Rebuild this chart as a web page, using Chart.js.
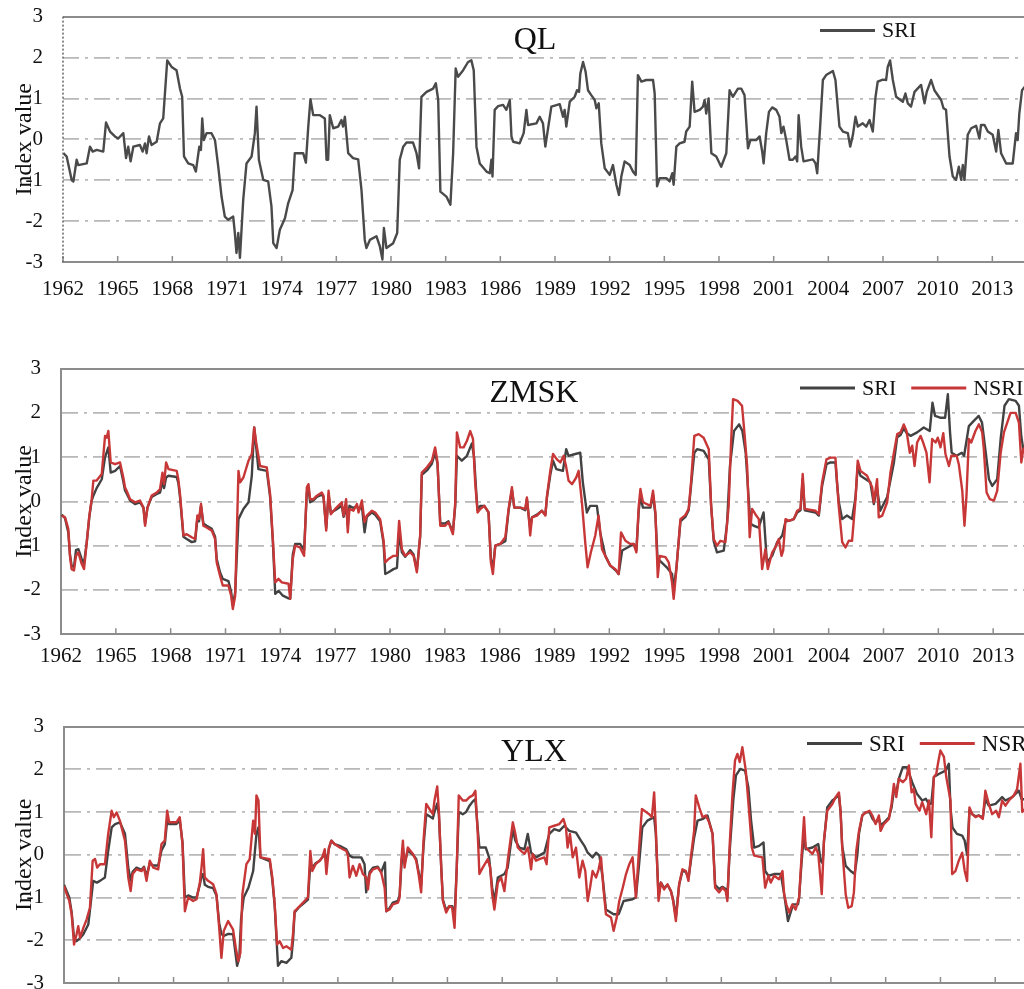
<!DOCTYPE html>
<html>
<head>
<meta charset="utf-8">
<title>SRI / NSRI</title>
<script src="https://cdn.jsdelivr.net/npm/chart.js@4.4.0/dist/chart.umd.min.js"></script>
<style>
    html, body { margin: 0; padding: 0; width: 1024px; height: 989px; overflow: hidden; background: #ffffff; }
    .panel { position: absolute; left: 0; width: 1080px; }
</style>
</head>
<body>
<div class="panel" style="top:-16px;height:336px"><canvas id="graficaQL"></canvas></div>
<div class="panel" style="top:335.5px;height:354.5px"><canvas id="graficaZMSK"></canvas></div>
<div class="panel" style="top:694px;height:326px"><canvas id="graficaYLX"></canvas></div>
<script>
// tick labels
const anosEje = [1962, 1965, 1968, 1971, 1974, 1977, 1980, 1983, 1986, 1989, 1992, 1995, 1998, 2001, 2004, 2007, 2010, 2013];
const valoresEje = [-3, -2, -1, 0, 1, 2, 3];

// [year, index value]
const qlSri = [
    [1962.02,-0.34],[1962.2,-0.42],[1962.48,-1.0],[1962.57,-1.03],[1962.75,-0.5],[1962.84,-0.63],[1963.3,-0.59],[1963.48,-0.18],[1963.63,-0.3],[1963.85,-0.26],
    [1964.21,-0.3],[1964.36,0.41],[1964.58,0.19],[1964.85,0.07],[1965.03,0.02],[1965.31,0.15],[1965.46,-0.46],[1965.58,-0.18],[1965.71,-0.54],[1965.86,-0.18],
    [1966.22,-0.14],[1966.37,-0.3],[1966.5,-0.1],[1966.59,-0.34],[1966.72,0.07],[1966.86,-0.14],[1967.14,-0.06],[1967.32,0.39],[1967.5,0.51],[1967.72,1.93],
    [1967.96,1.77],[1968.23,1.69],[1968.42,1.24],[1968.54,1.04],[1968.64,-0.42],[1968.87,-0.59],[1969.15,-0.63],[1969.29,-0.79],[1969.48,-0.18],[1969.57,-0.26],
    [1969.64,0.51],[1969.73,-0.02],[1969.88,0.15],[1970.15,0.15],[1970.34,-0.02],[1970.52,-0.67],[1970.7,-1.4],[1970.88,-1.89],[1971.07,-1.97],[1971.34,-1.89],
    [1971.43,-2.29],[1971.52,-2.78],[1971.62,-2.29],[1971.71,-2.9],[1971.89,-1.48],[1972.07,-0.59],[1972.35,-0.42],[1972.53,0.15],[1972.62,0.8],[1972.75,-0.5],
    [1972.99,-0.99],[1973.26,-1.03],[1973.44,-1.64],[1973.54,-2.54],[1973.72,-2.66],[1973.9,-2.21],[1974.18,-1.93],[1974.36,-1.56],[1974.6,-1.24],[1974.72,-0.34],
    [1975.18,-0.34],[1975.33,-0.57],[1975.46,0.31],[1975.58,0.98],[1975.73,0.59],[1976.1,0.59],[1976.37,0.51],[1976.46,-0.5],[1976.55,-0.5],[1976.64,0.59],
    [1976.83,0.27],[1977.1,0.31],[1977.28,0.47],[1977.37,0.31],[1977.47,0.55],[1977.65,-0.34],[1977.92,-0.46],[1978.2,-0.49],[1978.38,-1.24],[1978.56,-2.46],
    [1978.65,-2.66],[1978.84,-2.46],[1979.2,-2.37],[1979.39,-2.62],[1979.53,-2.94],[1979.61,-2.17],[1979.75,-2.66],[1980.12,-2.54],[1980.34,-2.29],[1980.48,-0.5],
    [1980.67,-0.18],[1980.85,-0.08],[1981.21,-0.08],[1981.4,-0.34],[1981.54,-0.71],[1981.67,1.04],[1981.95,1.16],[1982.31,1.24],[1982.46,1.37],[1982.59,0.96],
    [1982.71,-1.28],[1983.04,-1.4],[1983.26,-1.6],[1983.41,-0.34],[1983.55,1.73],[1983.68,1.53],[1983.96,1.69],[1984.23,1.89],[1984.41,1.93],[1984.54,1.69],
    [1984.69,-0.18],[1984.87,-0.59],[1985.24,-0.79],[1985.42,-0.83],[1985.51,-0.5],[1985.57,-0.91],[1985.69,0.72],[1985.88,0.81],[1986.15,0.84],[1986.33,0.72],
    [1986.52,0.96],[1986.61,0.07],[1986.7,-0.06],[1987.06,-0.1],[1987.28,0.15],[1987.43,0.72],[1987.52,0.35],[1987.98,0.39],[1988.16,0.55],[1988.34,0.39],
    [1988.47,-0.18],[1988.62,0.27],[1988.8,0.8],[1989.26,0.86],[1989.44,0.55],[1989.53,0.72],[1989.62,0.31],[1989.81,0.92],[1990.08,1.04],[1990.21,1.2],
    [1990.32,1.16],[1990.39,1.61],[1990.54,1.89],[1990.68,1.65],[1990.81,1.2],[1990.99,1.08],[1991.18,0.96],[1991.27,0.76],[1991.4,0.88],[1991.54,-0.1],
    [1991.73,-0.71],[1992.0,-0.87],[1992.18,-0.63],[1992.37,-1.11],[1992.51,-1.36],[1992.64,-0.91],[1992.82,-0.54],[1993.1,-0.63],[1993.28,-0.79],[1993.43,-0.87],
    [1993.55,1.57],[1993.74,1.41],[1994.01,1.45],[1994.38,1.45],[1994.47,1.12],[1994.6,-1.15],[1994.74,-0.95],[1995.11,-0.95],[1995.29,-1.03],[1995.44,-0.83],
    [1995.51,-1.11],[1995.66,-0.18],[1995.84,-0.1],[1996.11,-0.06],[1996.2,0.19],[1996.39,0.31],[1996.53,1.41],[1996.66,0.67],[1996.94,0.72],[1997.12,0.8],
    [1997.21,0.96],[1997.3,0.63],[1997.43,1.0],[1997.58,-0.34],[1997.85,-0.42],[1998.12,-0.67],[1998.4,-0.34],[1998.58,1.2],[1998.76,1.04],[1999.04,1.24],
    [1999.22,1.24],[1999.4,1.08],[1999.59,-0.22],[1999.72,-0.02],[2000.04,-0.02],[2000.23,0.07],[2000.37,-0.3],[2000.45,-0.59],[2000.59,0.15],[2000.74,0.67],
    [2000.92,0.78],[2001.14,0.72],[2001.32,0.55],[2001.42,0.15],[2001.54,0.31],[2001.69,-0.02],[2001.87,-0.5],[2002.05,-0.5],[2002.2,-0.42],[2002.29,-0.54],
    [2002.37,0.59],[2002.51,-0.18],[2002.64,-0.54],[2003.15,-0.49],[2003.3,-0.59],[2003.39,-0.83],[2003.55,0.31],[2003.7,1.45],[2003.88,1.57],[2004.25,1.67],
    [2004.39,1.45],[2004.61,0.31],[2004.8,0.19],[2005.07,0.15],[2005.2,-0.18],[2005.35,0.11],[2005.49,0.55],[2005.62,0.31],[2005.89,0.39],[2006.08,0.31],
    [2006.26,0.47],[2006.44,0.19],[2006.59,1.04],[2006.71,1.41],[2006.99,1.46],[2007.17,1.45],[2007.26,1.77],[2007.39,1.93],[2007.54,1.45],[2007.72,1.04],
    [2008.09,0.92],[2008.23,1.12],[2008.36,0.88],[2008.54,0.8],[2008.73,1.16],[2009.09,1.33],[2009.28,0.88],[2009.4,1.16],[2009.64,1.45],[2009.82,1.2],
    [2010.19,0.96],[2010.32,0.76],[2010.46,0.72],[2010.65,-0.42],[2010.83,-0.91],[2011.01,-0.99],[2011.16,-0.67],[2011.29,-0.99],[2011.38,-0.63],[2011.47,-0.99],
    [2011.65,0.11],[2011.84,0.27],[2012.11,0.33],[2012.29,0.02],[2012.38,0.35],[2012.57,0.35],[2012.75,0.19],[2013.02,0.11],[2013.21,-0.3],[2013.33,0.23],
    [2013.48,-0.34],[2013.76,-0.59],[2014.12,-0.59],[2014.3,0.15],[2014.39,-0.02],[2014.48,0.63],[2014.63,1.2],[2014.9,1.35]
];

const zmskSri = [
    [1962.04,-0.3],[1962.22,-0.38],[1962.4,-0.7],[1962.49,-1.2],[1962.58,-1.45],[1962.71,-1.48],[1962.82,-1.1],[1962.95,-1.08],[1963.13,-1.3],[1963.26,-1.4],
    [1963.41,-0.92],[1963.55,-0.35],[1963.68,0.02],[1963.77,0.13],[1963.95,0.3],[1964.23,0.5],[1964.41,1.0],[1964.59,1.22],[1964.72,0.65],[1964.96,0.69],
    [1965.23,0.8],[1965.41,0.45],[1965.5,0.25],[1965.59,0.18],[1965.78,0.02],[1966.05,-0.06],[1966.32,-0.02],[1966.51,-0.14],[1966.6,-0.5],[1966.73,-0.14],
    [1966.96,0.1],[1967.24,0.17],[1967.42,0.2],[1967.55,0.45],[1967.64,0.3],[1967.75,0.54],[1967.88,0.58],[1968.33,0.55],[1968.42,0.42],[1968.51,0.1],
    [1968.7,-0.8],[1968.88,-0.85],[1969.15,-0.92],[1969.34,-0.9],[1969.46,-0.4],[1969.55,-0.45],[1969.66,-0.1],[1969.79,-0.5],[1969.97,-0.55],[1970.25,-0.62],
    [1970.43,-0.8],[1970.52,-1.3],[1970.7,-1.6],[1970.85,-1.75],[1971.16,-1.8],[1971.31,-2.05],[1971.4,-2.35],[1971.53,-2.05],[1971.71,-0.4],[1971.98,-0.17],
    [1972.26,-0.02],[1972.44,0.58],[1972.57,1.67],[1972.8,0.73],[1973.26,0.69],[1973.44,0.1],[1973.59,-0.9],[1973.72,-2.09],[1973.9,-2.02],[1974.14,-2.13],
    [1974.45,-2.19],[1974.54,-2.2],[1974.68,-1.2],[1974.81,-0.96],[1975.08,-0.96],[1975.3,-1.1],[1975.45,0.2],[1975.54,0.3],[1975.63,-0.02],[1975.81,0.02],
    [1976.0,0.1],[1976.27,0.15],[1976.36,0.1],[1976.51,-0.6],[1976.64,0.15],[1976.76,-0.25],[1977.0,-0.2],[1977.36,-0.1],[1977.46,-0.35],[1977.6,-0.1],
    [1977.69,-0.55],[1977.78,-0.1],[1978.0,-0.15],[1978.19,-0.1],[1978.28,-0.2],[1978.46,-0.1],[1978.61,-0.7],[1978.73,-0.35],[1979.01,-0.25],[1979.19,-0.3],
    [1979.46,-0.45],[1979.65,-0.95],[1979.74,-1.64],[1979.92,-1.6],[1980.19,-1.53],[1980.38,-1.5],[1980.5,-0.7],[1980.65,-1.15],[1980.83,-1.25],[1981.11,-1.1],
    [1981.29,-1.2],[1981.47,-1.55],[1981.65,-0.8],[1981.74,0.6],[1982.02,0.7],[1982.29,0.85],[1982.47,1.1],[1982.6,0.85],[1982.75,-0.5],[1983.02,-0.5],
    [1983.2,-0.45],[1983.44,-0.7],[1983.57,-0.1],[1983.66,1.03],[1983.93,0.92],[1984.21,1.03],[1984.48,1.31],[1984.6,1.0],[1984.72,0.2],[1984.79,-0.2],
    [1984.94,-0.1],[1985.16,-0.1],[1985.39,-0.25],[1985.52,-1.3],[1985.63,-1.5],[1985.76,-1.0],[1986.03,-0.96],[1986.31,-0.9],[1986.49,-0.2],[1986.67,0.25],
    [1986.8,-0.14],[1987.13,-0.14],[1987.4,-0.2],[1987.49,0.05],[1987.58,-0.3],[1987.67,-0.6],[1987.77,-0.36],[1988.04,-0.3],[1988.31,-0.21],[1988.5,-0.3],
    [1988.59,0.1],[1988.77,0.6],[1988.92,0.92],[1989.1,0.73],[1989.46,0.69],[1989.64,1.18],[1989.77,1.03],[1990.04,1.06],[1990.41,1.1],[1990.55,0.43],
    [1990.77,-0.25],[1990.95,-0.1],[1991.32,-0.1],[1991.5,-0.7],[1991.78,-1.23],[1992.05,-1.45],[1992.33,-1.55],[1992.51,-1.64],[1992.7,-1.11],[1993.0,-1.04],
    [1993.33,-0.96],[1993.48,-1.1],[1993.61,-0.2],[1993.7,0.1],[1993.84,-0.14],[1994.25,-0.14],[1994.39,0.15],[1994.52,-0.3],[1994.65,-1.4],[1994.76,-1.34],
    [1995.14,-1.49],[1995.43,-1.64],[1995.52,-1.98],[1995.67,-1.5],[1995.89,-0.45],[1996.16,-0.35],[1996.34,-0.2],[1996.47,0.35],[1996.65,1.1],[1996.8,1.18],
    [1997.16,1.14],[1997.44,0.95],[1997.57,-0.1],[1997.71,-0.9],[1997.89,-1.15],[1998.26,-1.11],[1998.44,-0.5],[1998.6,0.8],[1998.82,1.59],[1999.1,1.74],
    [1999.28,1.59],[1999.46,1.1],[1999.6,0.2],[1999.72,-0.5],[1999.9,-0.55],[2000.17,-0.59],[2000.44,-0.25],[2000.62,-1.38],[2000.91,-1.23],[2001.18,-0.92],
    [2001.46,-0.77],[2001.64,-0.45],[2001.82,-0.44],[2002.09,-0.4],[2002.28,-0.25],[2002.46,-0.2],[2002.58,0.5],[2002.69,-0.2],[2003.28,-0.25],[2003.46,-0.32],
    [2003.64,0.35],[2003.88,0.84],[2004.1,0.88],[2004.37,0.88],[2004.46,0.4],[2004.55,0.0],[2004.74,-0.4],[2005.0,-0.32],[2005.28,-0.4],[2005.47,0.1],
    [2005.59,0.8],[2005.74,0.58],[2006.28,0.43],[2006.47,-0.06],[2006.65,0.3],[2006.82,-0.21],[2007.2,0.1],[2007.57,0.88],[2007.75,1.45],[2007.93,1.5],
    [2008.11,1.65],[2008.26,1.55],[2008.48,1.48],[2008.84,1.56],[2009.2,1.67],[2009.53,1.59],[2009.68,2.23],[2009.82,1.93],[2010.1,1.89],[2010.37,1.89],
    [2010.52,2.42],[2010.64,1.56],[2010.73,1.1],[2011.0,1.03],[2011.28,1.1],[2011.41,1.03],[2011.67,1.7],[2011.94,1.82],[2012.21,1.93],[2012.39,1.78],
    [2012.57,1.18],[2012.77,0.5],[2012.95,0.35],[2013.22,0.5],[2013.41,1.41],[2013.62,2.16],[2013.86,2.31],[2014.23,2.27],[2014.41,2.16],[2014.54,1.46],
    [2014.65,1.18],[2014.9,1.3]
];

const zmskNsri = [
    [1962.04,-0.32],[1962.22,-0.36],[1962.4,-0.62],[1962.49,-1.23],[1962.58,-1.53],[1962.71,-1.56],[1962.82,-1.23],[1962.95,-1.15],[1963.13,-1.41],[1963.26,-1.53],
    [1963.41,-0.92],[1963.55,-0.32],[1963.68,0.05],[1963.77,0.47],[1963.95,0.47],[1964.23,0.62],[1964.41,1.48],[1964.5,1.44],[1964.59,1.59],[1964.72,0.88],
    [1964.96,0.84],[1965.23,0.88],[1965.41,0.54],[1965.5,0.32],[1965.59,0.24],[1965.78,0.05],[1966.05,-0.02],[1966.32,0.02],[1966.51,-0.14],[1966.6,-0.55],
    [1966.73,-0.14],[1966.96,0.13],[1967.24,0.2],[1967.42,0.28],[1967.55,0.65],[1967.64,0.39],[1967.75,0.88],[1967.88,0.73],[1968.33,0.69],[1968.42,0.5],
    [1968.51,0.17],[1968.7,-0.77],[1968.88,-0.74],[1969.15,-0.81],[1969.34,-0.85],[1969.46,-0.32],[1969.55,-0.4],[1969.66,-0.06],[1969.79,-0.55],[1969.97,-0.59],
    [1970.25,-0.66],[1970.43,-0.85],[1970.52,-1.38],[1970.7,-1.68],[1970.85,-1.9],[1971.16,-1.9],[1971.31,-2.13],[1971.4,-2.43],[1971.53,-2.13],[1971.71,0.69],
    [1971.8,0.43],[1971.98,0.54],[1972.26,0.92],[1972.44,1.07],[1972.57,1.67],[1972.68,1.33],[1972.89,0.8],[1973.26,0.77],[1973.44,0.17],[1973.59,-0.85],
    [1973.72,-1.83],[1973.9,-1.75],[1974.08,-1.83],[1974.45,-1.86],[1974.54,-2.2],[1974.68,-1.3],[1974.81,-1.0],[1975.08,-1.04],[1975.3,-1.23],[1975.45,0.32],
    [1975.54,0.39],[1975.63,0.05],[1975.81,0.05],[1976.0,0.13],[1976.27,0.2],[1976.36,0.13],[1976.51,-0.66],[1976.64,0.24],[1976.76,-0.29],[1977.0,-0.17],
    [1977.36,-0.02],[1977.46,-0.32],[1977.6,0.05],[1977.69,-0.7],[1977.78,-0.17],[1978.0,-0.21],[1978.19,-0.06],[1978.28,-0.25],[1978.46,0.02],[1978.61,-0.47],
    [1978.73,-0.32],[1979.01,-0.21],[1979.19,-0.25],[1979.46,-0.4],[1979.65,-0.89],[1979.74,-1.38],[1979.92,-1.3],[1980.19,-1.23],[1980.38,-1.23],[1980.5,-0.44],
    [1980.65,-1.08],[1980.83,-1.23],[1981.11,-1.15],[1981.29,-1.23],[1981.47,-1.6],[1981.65,-0.77],[1981.74,0.65],[1982.02,0.77],[1982.29,0.92],[1982.47,1.22],
    [1982.6,0.88],[1982.75,-0.55],[1983.02,-0.55],[1983.2,-0.47],[1983.44,-0.74],[1983.57,-0.02],[1983.66,1.56],[1983.84,1.22],[1984.03,1.22],[1984.21,1.37],
    [1984.39,1.59],[1984.54,1.41],[1984.66,0.43],[1984.79,-0.25],[1984.94,-0.17],[1985.16,-0.1],[1985.39,-0.25],[1985.52,-1.38],[1985.63,-1.64],[1985.76,-1.0],
    [1986.03,-0.96],[1986.31,-0.81],[1986.49,-0.17],[1986.67,0.32],[1986.8,-0.14],[1987.13,-0.14],[1987.4,-0.17],[1987.49,0.09],[1987.58,-0.29],[1987.67,-0.77],
    [1987.77,-0.36],[1988.04,-0.32],[1988.31,-0.21],[1988.5,-0.32],[1988.59,0.13],[1988.77,0.69],[1988.92,1.07],[1989.13,0.95],[1989.32,0.88],[1989.5,1.03],
    [1989.63,0.8],[1989.77,0.47],[1989.96,0.39],[1990.19,0.54],[1990.32,0.69],[1990.5,-0.02],[1990.68,-0.92],[1990.81,-1.49],[1990.99,-1.15],[1991.23,-0.77],
    [1991.41,-0.32],[1991.6,-1.08],[1991.78,-1.23],[1992.05,-1.45],[1992.33,-1.53],[1992.51,-1.64],[1992.64,-0.7],[1992.88,-0.89],[1993.15,-0.96],[1993.33,-0.96],
    [1993.48,-1.15],[1993.61,-0.1],[1993.7,0.28],[1993.84,-0.02],[1994.25,-0.1],[1994.39,0.24],[1994.52,-0.25],[1994.65,-1.71],[1994.76,-1.23],[1995.07,-1.26],
    [1995.25,-1.38],[1995.43,-1.83],[1995.52,-2.2],[1995.67,-1.53],[1995.89,-0.4],[1996.16,-0.31],[1996.34,-0.17],[1996.47,0.43],[1996.65,1.48],[1996.89,1.52],
    [1997.16,1.44],[1997.44,1.18],[1997.57,-0.1],[1997.71,-0.85],[1997.89,-1.0],[1998.08,-0.89],[1998.35,-0.92],[1998.53,-0.1],[1998.66,1.33],[1998.77,2.31],
    [1999.02,2.27],[1999.26,2.16],[1999.39,1.56],[1999.54,0.8],[1999.68,-0.81],[1999.81,-0.17],[1999.99,-0.29],[2000.18,-0.4],[2000.36,-1.53],[2000.54,-1.08],
    [2000.67,-1.53],[2000.91,-1.15],[2001.09,-1.04],[2001.27,-0.85],[2001.42,-1.23],[2001.51,-1.11],[2001.64,-0.4],[2001.82,-0.44],[2002.09,-0.4],[2002.28,-0.21],
    [2002.46,-0.17],[2002.58,0.62],[2002.69,-0.17],[2003.28,-0.21],[2003.46,-0.29],[2003.64,0.43],[2003.88,0.95],[2004.1,0.99],[2004.37,0.99],[2004.46,0.43],
    [2004.55,-0.1],[2004.74,-0.92],[2004.92,-1.04],[2005.1,-0.89],[2005.28,-0.89],[2005.47,0.05],[2005.59,0.92],[2005.74,0.69],[2006.1,0.58],[2006.38,0.32],
    [2006.47,-0.02],[2006.65,0.5],[2006.74,-0.36],[2006.93,-0.32],[2007.2,-0.02],[2007.38,0.65],[2007.57,1.1],[2007.75,1.52],[2007.93,1.56],[2008.11,1.74],
    [2008.26,1.59],[2008.44,1.1],[2008.57,1.26],[2008.7,0.8],[2008.84,1.33],[2009.03,1.48],[2009.17,1.33],[2009.35,1.1],[2009.52,0.43],[2009.66,1.41],
    [2009.85,1.33],[2009.97,1.44],[2010.12,1.22],[2010.27,1.54],[2010.39,1.07],[2010.58,0.8],[2010.71,1.03],[2011.0,1.03],[2011.12,0.84],[2011.31,0.24],
    [2011.43,-0.55],[2011.54,0.13],[2011.67,1.41],[2011.8,1.33],[2012.03,1.59],[2012.22,1.74],[2012.4,1.56],[2012.49,1.18],[2012.64,0.2],[2012.82,0.05],
    [2013.04,0.02],[2013.22,0.24],[2013.41,1.1],[2013.59,1.56],[2013.77,1.78],[2013.95,2.0],[2014.23,2.0],[2014.41,1.78],[2014.54,0.88],[2014.65,1.18],
    [2014.9,1.3]
];

const ylxSri = [
    [1962.0,-0.7],[1962.15,-0.85],[1962.29,-1.0],[1962.42,-1.35],[1962.55,-1.95],[1962.69,-2.02],[1962.88,-1.95],[1963.06,-1.86],[1963.33,-1.63],[1963.42,-1.3],
    [1963.6,-0.61],[1963.8,-0.65],[1963.97,-0.61],[1964.24,-0.53],[1964.42,0.09],[1964.61,0.64],[1964.8,0.72],[1965.06,0.76],[1965.34,0.49],[1965.52,-0.3],
    [1965.65,-0.6],[1965.76,-0.4],[1965.97,-0.3],[1966.25,-0.35],[1966.38,-0.28],[1966.52,-0.5],[1966.7,-0.2],[1966.89,-0.25],[1967.16,-0.25],[1967.34,0.1],
    [1967.52,0.25],[1967.65,0.8],[1967.76,0.72],[1968.16,0.72],[1968.34,0.8],[1968.49,0.3],[1968.62,-1.0],[1968.8,-0.95],[1969.07,-1.0],[1969.26,-1.0],
    [1969.44,-0.7],[1969.53,-0.5],[1969.62,-0.45],[1969.71,-0.7],[1969.89,-0.75],[1970.17,-0.78],[1970.35,-0.95],[1970.5,-1.6],[1970.62,-1.85],[1970.75,-1.9],
    [1970.99,-1.85],[1971.26,-1.86],[1971.48,-2.6],[1971.6,-2.41],[1971.7,-1.5],[1971.84,-1.0],[1972.1,-0.77],[1972.36,-0.38],[1972.54,0.49],[1972.65,0.64],
    [1972.76,-0.06],[1973.27,-0.15],[1973.41,-0.6],[1973.54,-1.2],[1973.72,-2.6],[1973.9,-2.49],[1974.18,-2.53],[1974.45,-2.41],[1974.54,-2.02],[1974.63,-1.35],
    [1974.82,-1.25],[1975.0,-1.18],[1975.36,-1.05],[1975.49,-0.2],[1975.6,-0.3],[1975.78,-0.2],[1976.0,-0.14],[1976.15,-0.06],[1976.28,0.05],[1976.37,-0.2],
    [1976.51,0.15],[1976.64,0.33],[1976.82,0.25],[1977.1,0.21],[1977.46,0.13],[1977.64,-0.02],[1977.82,-0.06],[1978.28,-0.06],[1978.46,-0.22],[1978.55,-0.88],
    [1978.65,-0.6],[1978.74,-0.4],[1978.92,-0.3],[1979.19,-0.28],[1979.37,-0.41],[1979.58,-0.18],[1979.65,-1.32],[1979.83,-1.25],[1980.01,-1.12],[1980.29,-1.08],
    [1980.38,-0.95],[1980.47,-0.3],[1980.56,0.15],[1980.65,-0.2],[1980.83,0.1],[1981.11,0.0],[1981.29,-0.1],[1981.42,-0.4],[1981.56,-0.7],[1981.69,0.2],
    [1981.84,0.95],[1982.02,0.9],[1982.2,0.85],[1982.29,1.0],[1982.44,1.2],[1982.53,0.95],[1982.66,-0.3],[1982.75,-1.05],[1982.93,-1.3],[1983.11,-1.2],
    [1983.26,-1.2],[1983.39,-1.45],[1983.51,-0.3],[1983.62,1.0],[1983.84,0.95],[1984.02,1.0],[1984.21,1.15],[1984.39,1.25],[1984.53,1.3],[1984.66,0.6],
    [1984.75,0.17],[1985.1,0.17],[1985.28,-0.06],[1985.45,-0.77],[1985.57,-1.1],[1985.76,-0.53],[1986.12,-0.45],[1986.3,-0.3],[1986.58,0.6],[1986.72,0.33],
    [1986.94,0.17],[1987.22,0.13],[1987.4,0.49],[1987.58,0.05],[1987.85,-0.06],[1988.31,0.05],[1988.58,0.49],[1988.85,0.6],[1989.13,0.56],[1989.4,0.68],
    [1989.67,0.56],[1990.04,0.52],[1990.31,0.33],[1990.5,0.21],[1990.68,0.05],[1990.95,-0.06],[1991.14,0.05],[1991.32,-0.02],[1991.5,-0.53],[1991.68,-1.28],
    [1992.1,-1.39],[1992.38,-1.39],[1992.65,-1.08],[1993.14,-1.04],[1993.32,-1.0],[1993.5,-0.2],[1993.67,0.64],[1993.95,0.8],[1994.32,0.88],[1994.41,0.5],
    [1994.56,-0.95],[1994.69,-0.65],[1994.87,-0.78],[1995.05,-0.7],[1995.24,-0.85],[1995.36,-1.05],[1995.51,-1.45],[1995.69,-0.7],[1995.87,-0.38],[1996.06,-0.4],
    [1996.2,-0.55],[1996.33,-0.15],[1996.51,0.4],[1996.7,0.8],[1997.0,0.84],[1997.24,0.92],[1997.52,0.49],[1997.66,-0.7],[1997.88,-0.8],[1998.06,-0.75],
    [1998.24,-0.8],[1998.33,-1.0],[1998.46,0.1],[1998.66,1.3],[1998.8,1.86],[1999.04,2.01],[1999.3,1.97],[1999.48,1.58],[1999.63,0.8],[1999.8,0.17],
    [2000.07,0.21],[2000.31,0.29],[2000.4,-0.38],[2000.58,-0.49],[2000.89,-0.45],[2001.26,-0.45],[2001.44,-0.92],[2001.65,-1.55],[2001.93,-1.16],[2002.2,-1.16],
    [2002.26,-1.0],[2002.39,-0.2],[2002.53,0.5],[2002.62,0.13],[2002.99,0.17],[2003.31,0.25],[2003.44,-0.14],[2003.55,-0.2],[2003.62,0.3],[2003.8,1.11],
    [2004.08,1.27],[2004.44,1.39],[2004.53,1.0],[2004.62,0.2],[2004.81,-0.26],[2005.08,-0.38],[2005.3,-0.45],[2005.45,0.0],[2005.54,0.5],[2005.72,0.92],
    [2005.9,0.99],[2006.12,1.0],[2006.27,0.85],[2006.45,0.75],[2006.63,0.85],[2006.72,0.7],[2006.9,0.75],[2007.18,0.88],[2007.32,1.1],[2007.45,1.5],
    [2007.58,1.45],[2007.72,1.78],[2007.94,2.05],[2008.17,2.05],[2008.45,1.7],[2008.72,1.42],[2009.0,1.27],[2009.2,1.31],[2009.37,1.19],[2009.5,1.2],
    [2009.64,1.82],[2009.91,1.89],[2010.28,1.97],[2010.46,2.13],[2010.55,1.1],[2010.66,0.64],[2010.9,0.49],[2011.19,0.45],[2011.33,0.33],[2011.46,0.0],
    [2011.59,1.05],[2011.74,0.95],[2011.92,0.9],[2012.1,0.92],[2012.32,0.88],[2012.46,1.3],[2012.65,1.15],[2013.02,1.19],[2013.38,1.35],[2013.56,1.27],
    [2013.93,1.35],[2014.29,1.5],[2014.45,1.3],[2014.9,1.3]
];

const ylxNsri = [
    [1962.0,-0.73],[1962.15,-0.92],[1962.29,-1.08],[1962.42,-1.39],[1962.55,-2.1],[1962.69,-1.86],[1962.78,-1.67],[1962.88,-1.94],[1963.06,-1.71],[1963.24,-1.51],
    [1963.42,-1.24],[1963.57,-0.14],[1963.7,-0.1],[1963.82,-0.3],[1963.97,-0.22],[1964.24,-0.22],[1964.42,0.49],[1964.61,1.03],[1964.73,0.88],[1964.88,0.99],
    [1965.06,0.8],[1965.34,0.33],[1965.52,-0.53],[1965.65,-0.85],[1965.76,-0.45],[1965.97,-0.34],[1966.25,-0.38],[1966.38,-0.3],[1966.52,-0.61],[1966.7,-0.14],
    [1966.89,-0.3],[1967.16,-0.34],[1967.34,0.25],[1967.52,0.33],[1967.65,1.03],[1967.76,0.76],[1968.16,0.76],[1968.34,0.88],[1968.49,0.25],[1968.62,-1.32],
    [1968.8,-1.0],[1969.07,-1.08],[1969.26,-1.04],[1969.44,-0.65],[1969.53,-0.3],[1969.62,0.13],[1969.71,-0.53],[1969.89,-0.61],[1970.17,-0.69],[1970.35,-0.92],
    [1970.5,-1.71],[1970.62,-2.41],[1970.75,-1.78],[1970.99,-1.55],[1971.26,-1.75],[1971.41,-2.18],[1971.54,-2.49],[1971.66,-2.29],[1971.77,-0.92],[1971.99,-0.22],
    [1972.17,-0.1],[1972.36,0.8],[1972.46,0.49],[1972.54,1.39],[1972.65,1.27],[1972.76,-0.06],[1973.27,-0.1],[1973.41,-0.53],[1973.54,-1.16],[1973.67,-2.1],
    [1973.81,-2.02],[1974.0,-2.18],[1974.18,-2.14],[1974.45,-2.22],[1974.54,-1.86],[1974.63,-1.32],[1974.82,-1.24],[1975.0,-1.16],[1975.36,-1.0],[1975.49,0.09],
    [1975.6,-0.38],[1975.78,-0.22],[1976.0,-0.14],[1976.15,-0.06],[1976.28,0.13],[1976.37,-0.45],[1976.51,0.17],[1976.64,0.33],[1976.82,0.25],[1977.1,0.17],
    [1977.46,0.09],[1977.55,-0.02],[1977.64,-0.53],[1977.82,-0.26],[1978.01,-0.49],[1978.19,-0.22],[1978.37,-0.45],[1978.55,-0.53],[1978.65,-0.81],[1978.74,-0.45],
    [1978.92,-0.34],[1979.19,-0.3],[1979.37,-0.41],[1979.56,-0.77],[1979.65,-1.32],[1979.83,-1.28],[1980.01,-1.16],[1980.29,-1.12],[1980.38,-1.0],[1980.47,-0.14],
    [1980.56,0.33],[1980.65,-0.3],[1980.83,0.17],[1981.11,0.02],[1981.29,-0.14],[1981.42,-0.45],[1981.56,-0.88],[1981.69,0.33],[1981.84,1.19],[1982.02,1.07],
    [1982.2,0.95],[1982.29,1.27],[1982.44,1.6],[1982.53,1.03],[1982.66,-0.3],[1982.75,-1.08],[1982.93,-1.35],[1983.11,-1.2],[1983.26,-1.24],[1983.39,-1.71],
    [1983.51,-0.3],[1983.62,1.39],[1983.84,1.27],[1984.02,1.27],[1984.21,1.35],[1984.39,1.39],[1984.53,1.5],[1984.66,0.49],[1984.75,-0.45],[1984.93,-0.3],
    [1985.21,-0.1],[1985.34,-0.3],[1985.45,-0.92],[1985.57,-1.28],[1985.76,-0.65],[1985.94,-0.53],[1986.12,-0.85],[1986.3,-0.14],[1986.58,0.76],[1986.72,0.49],
    [1986.85,0.17],[1987.03,0.09],[1987.22,0.02],[1987.4,0.17],[1987.49,-0.06],[1987.58,-0.34],[1987.67,0.02],[1987.85,-0.14],[1988.03,-0.1],[1988.31,-0.06],
    [1988.43,-0.22],[1988.58,0.64],[1988.85,0.68],[1989.13,0.72],[1989.35,0.84],[1989.49,0.64],[1989.58,0.17],[1989.71,0.49],[1989.86,-0.06],[1990.04,0.17],
    [1990.22,-0.53],[1990.4,-0.14],[1990.55,-0.38],[1990.68,-1.08],[1990.81,-0.77],[1990.95,-0.38],[1991.14,-0.53],[1991.28,-0.34],[1991.41,-0.06],[1991.54,-0.77],
    [1991.68,-1.39],[1991.96,-1.47],[1992.1,-1.78],[1992.27,-1.47],[1992.41,-1.08],[1992.6,-0.77],[1992.78,-0.45],[1992.96,-0.22],[1993.14,-0.06],[1993.32,-1.0],
    [1993.5,0.17],[1993.65,1.07],[1994.05,0.95],[1994.2,0.88],[1994.32,1.46],[1994.41,0.64],[1994.56,-1.08],[1994.69,-0.65],[1994.87,-0.81],[1995.05,-0.69],
    [1995.24,-0.85],[1995.36,-1.08],[1995.51,-1.55],[1995.69,-0.69],[1995.87,-0.34],[1996.06,-0.38],[1996.2,-0.61],[1996.33,-0.06],[1996.51,0.56],[1996.6,1.39],
    [1996.79,1.11],[1996.97,0.88],[1997.15,0.92],[1997.33,0.76],[1997.52,0.49],[1997.66,-0.77],[1997.88,-0.88],[1998.06,-0.77],[1998.24,-0.85],[1998.33,-1.08],
    [1998.46,0.25],[1998.61,1.42],[1998.75,2.21],[1998.88,2.36],[1999.01,2.17],[1999.15,2.52],[1999.34,1.97],[1999.52,1.03],[1999.67,0.17],[1999.8,-0.02],
    [2000.25,-0.06],[2000.4,-0.77],[2000.58,-0.49],[2000.71,-0.65],[2000.89,-0.49],[2001.16,-0.57],[2001.35,-0.38],[2001.44,-0.92],[2001.56,-1.16],[2001.71,-1.35],
    [2001.89,-1.16],[2002.07,-1.28],[2002.26,-1.0],[2002.39,-0.06],[2002.53,0.88],[2002.62,0.17],[2002.99,0.02],[2003.17,0.17],[2003.31,0.02],[2003.5,-0.92],
    [2003.62,0.33],[2003.8,1.03],[2004.08,1.19],[2004.26,1.35],[2004.44,1.46],[2004.53,1.03],[2004.62,0.17],[2004.81,-0.92],[2004.95,-1.24],[2005.14,-1.2],
    [2005.26,-0.88],[2005.39,0.09],[2005.54,0.56],[2005.72,0.92],[2005.9,0.99],[2006.12,1.03],[2006.27,0.92],[2006.45,0.72],[2006.63,0.92],[2006.72,0.56],
    [2006.9,0.72],[2007.18,0.84],[2007.32,1.19],[2007.45,1.66],[2007.58,1.35],[2007.72,1.78],[2007.94,1.7],[2008.12,1.78],[2008.27,2.09],[2008.42,1.46],
    [2008.54,1.54],[2008.64,1.19],[2008.85,1.03],[2009.0,1.23],[2009.22,0.95],[2009.37,1.27],[2009.5,0.41],[2009.64,1.82],[2009.77,1.89],[2009.88,2.17],
    [2010.0,2.44],[2010.19,2.29],[2010.32,1.82],[2010.42,1.58],[2010.55,1.27],[2010.64,-0.45],[2010.82,-0.38],[2011.0,-0.14],[2011.19,0.05],[2011.33,-0.38],
    [2011.46,-0.61],[2011.59,1.11],[2011.74,0.95],[2011.92,0.88],[2012.1,0.92],[2012.32,0.84],[2012.46,1.5],[2012.65,1.19],[2012.83,0.95],[2013.05,1.03],
    [2013.2,0.88],[2013.38,1.27],[2013.56,1.15],[2013.75,1.27],[2014.02,1.39],[2014.2,1.54],[2014.38,2.13],[2014.48,1.0],[2014.9,1.2]
];

const COLOR_SRI = "#424242";
const COLOR_NSRI = "#c83737";
const FUENTE = "'Liberation Serif', 'Times New Roman', serif";

Chart.defaults.font.family = FUENTE;
Chart.defaults.color = "#111111";

// panel name, legend, inward x ticks and (for QL) a dotted left axis
const rotulosPanel = {
    id: "rotulosPanel",
    afterDraw(chart, args, opts) {
        const { ctx, chartArea, scales } = chart;
        ctx.save();

        ctx.strokeStyle = "#8c8c8c";
        ctx.lineWidth = 1.5;
        scales.x.ticks.forEach(t => {
            const px = scales.x.getPixelForValue(t.value);
            ctx.beginPath();
            ctx.moveTo(px, chartArea.bottom);
            ctx.lineTo(px, chartArea.bottom - 6);
            ctx.stroke();
        });

        if (opts.ejePunteado) {
            ctx.strokeStyle = "#666666";
            ctx.lineWidth = 1.5;
            ctx.setLineDash([2, 2]);
            ctx.beginPath();
            ctx.moveTo(chartArea.left, chartArea.top);
            ctx.lineTo(chartArea.left, chartArea.bottom);
            ctx.stroke();
            ctx.setLineDash([]);
        }

        ctx.fillStyle = "#111111";
        ctx.font = "32px " + FUENTE;
        ctx.textAlign = "center";
        ctx.textBaseline = "middle";
        ctx.fillText(opts.nombre, chartArea.left + opts.tituloX, chartArea.top + opts.tituloY);

        let x = chartArea.left + opts.leyendaX;
        const y = chartArea.top + opts.leyendaY;
        ctx.font = opts.leyendaTam + "px " + FUENTE;
        ctx.textAlign = "left";
        chart.data.datasets.forEach(ds => {
            ctx.strokeStyle = ds.borderColor;
            ctx.lineWidth = 3;
            ctx.beginPath();
            ctx.moveTo(x, y);
            ctx.lineTo(x + 55, y);
            ctx.stroke();
            x += 62;
            ctx.fillText(ds.label, x, y + 1);
            x += ctx.measureText(ds.label).width + 15;
        });

        ctx.restore();
    }
};

// chart area top is always 32px into the canvas; the canvases are shifted instead
function crearPanel(canvasId, series, geo) {
    return new Chart(document.getElementById(canvasId), {
        type: "line",
        data: {
            datasets: series.map(s => ({
                label: s.label,
                data: s.puntos.map(p => ({ x: p[0], y: p[1] })),
                borderColor: s.color,
                borderWidth: 2.4,
                borderJoinStyle: "round",
                pointRadius: 0,
                tension: 0,
                order: s.orden
            }))
        },
        options: {
            responsive: true,
            maintainAspectRatio: false,
            animation: false,
            events: [],
            layout: {
                autoPadding: false,
                padding: { top: 32, right: geo.derecha, bottom: 0, left: 0 }
            },
            plugins: {
                legend: { display: false },
                tooltip: { enabled: false },
                rotulosPanel: geo.rotulos
            },
            scales: {
                x: {
                    type: "linear",
                    min: 1962,
                    max: 2016,
                    afterBuildTicks: scale => { scale.ticks = anosEje.map(v => ({ value: v })); },
                    afterFit: scale => { scale.height = geo.altoEjeX; },
                    grid: { display: false, drawTicks: false },
                    border: { display: true, color: "#8c8c8c", width: 2 },
                    ticks: {
                        font: { size: 21 },
                        padding: geo.rellenoX,
                        maxRotation: 0,
                        autoSkip: false,
                        callback: v => String(v)
                    }
                },
                y: {
                    min: -3,
                    max: 3,
                    afterBuildTicks: scale => { scale.ticks = valoresEje.map(v => ({ value: v })); },
                    afterFit: scale => { scale.width = geo.izquierda; },
                    grid: {
                        drawTicks: false,
                        color: c => (c.tick && c.tick.value === 3) ? "#8c8c8c" : "#b8b8b8",
                        lineWidth: c => (c.tick && c.tick.value === 3) ? 2 : 1.8
                    },
                    border: {
                        display: !geo.rotulos.ejePunteado,
                        color: "#8c8c8c",
                        width: 2,
                        dash: c => (!c.tick || Math.abs(c.tick.value) === 3) ? [] : [16, 6, 3, 6]
                    },
                    ticks: { font: { size: 21 }, padding: 20 },
                    title: {
                        display: true,
                        text: "Index value",
                        font: { size: 24 },
                        padding: { top: 10, bottom: 0 }
                    }
                }
            }
        },
        plugins: [rotulosPanel]
    });
}

crearPanel("graficaQL",
    [{ label: "SRI", puntos: qlSri, color: "#4a4a4a", orden: 1 }],
    { derecha: 33, izquierda: 63, altoEjeX: 58, rellenoX: 15,
      rotulos: { nombre: "QL", tituloX: 472, tituloY: 24, leyendaX: 757, leyendaY: 14, leyendaTam: 22, ejePunteado: true } });

crearPanel("graficaZMSK",
    [{ label: "SRI", puntos: zmskSri, color: COLOR_SRI, orden: 2 },
     { label: "NSRI", puntos: zmskNsri, color: COLOR_NSRI, orden: 1 }],
    { derecha: 32, izquierda: 61, altoEjeX: 56.3, rellenoX: 10,
      rotulos: { nombre: "ZMSK", tituloX: 473, tituloY: 24.5, leyendaX: 739, leyendaY: 19.5, leyendaTam: 22, ejePunteado: false } });

crearPanel("graficaYLX",
    [{ label: "SRI", puntos: ylxSri, color: COLOR_SRI, orden: 2 },
     { label: "NSRI", puntos: ylxNsri, color: COLOR_NSRI, orden: 1 }],
    { derecha: 30, izquierda: 64, altoEjeX: 37, rellenoX: 12,
      rotulos: { nombre: "YLX", tituloX: 470, tituloY: 26, leyendaX: 743, leyendaY: 17, leyendaTam: 23, ejePunteado: false } });
</script>
</body>
</html>
